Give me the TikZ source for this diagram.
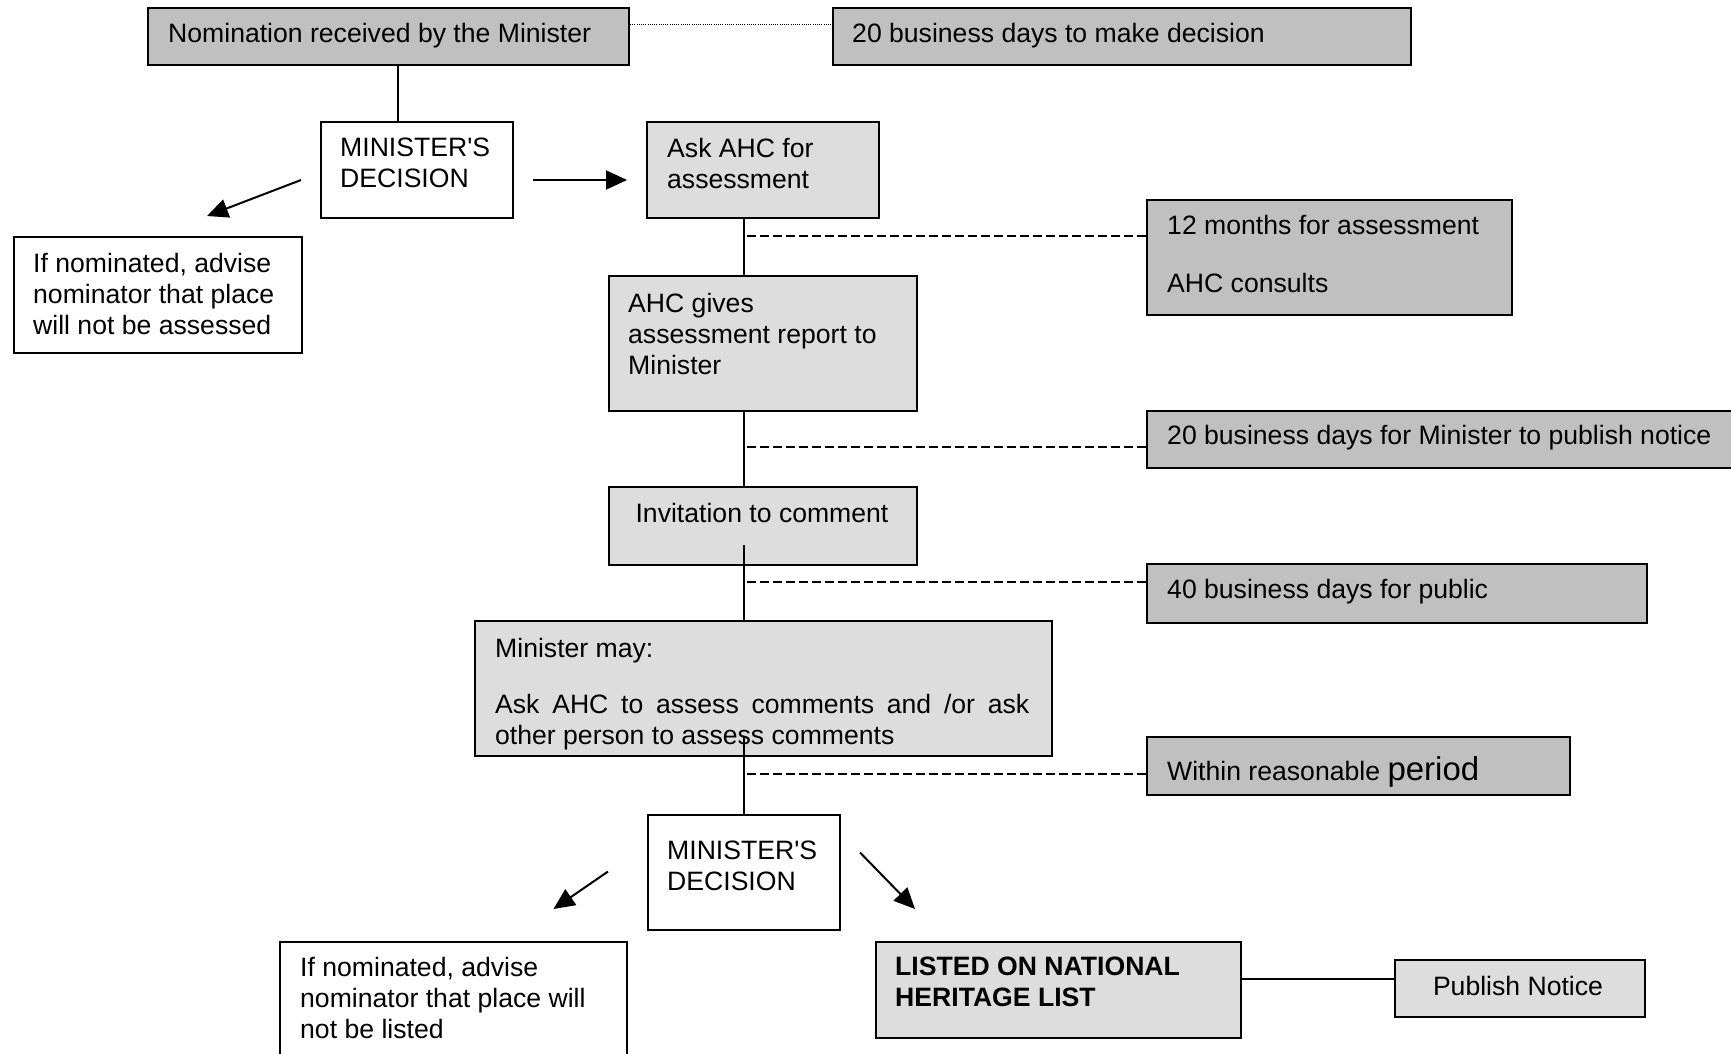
\documentclass[tikz,border=0pt]{standalone}
\usepackage{fontspec}
\setmainfont{Liberation Sans}
\usetikzlibrary{positioning, calc, arrows.meta}
\definecolor{boxdark}{HTML}{C0C0C0}
\definecolor{boxlight}{HTML}{DDDDDD}
\tikzset{
  every node/.style={font=\fontsize{26.6pt}{31pt}\selectfont}, % text size of the whole chart
  box/.style={draw, line width=2pt, anchor=north west, inner sep=0pt}, % every frame
  darkbox/.style={box, fill=boxdark}, % time limits on the right
  lightbox/.style={box, fill=boxlight}, % steps of the process
  plainbox/.style={box, fill=white}, % decisions and results
  txt/.style={anchor=north west, inner sep=0pt, align=left}, % text inside a frame
  link/.style={line width=2pt}, % plain connector
  flow/.style={link, -{Triangle[length=21pt, width=19pt]}}, % arrows
  timelink/.style={line width=2pt, dash pattern=on 9pt off 4pt}, % dashed line to a time limit
  duelink/.style={line width=1pt, dash pattern=on 1pt off 1.2pt}, % dotted line at the top
}

\begin{document}
\begin{tikzpicture}[x=1pt, y=-1pt]
  \useasboundingbox (0,0) rectangle (1731,1053);

  % frames
  \node[darkbox, minimum width=481pt, minimum height=57pt] (NOMINATION) at (147,7) {};
  \node[darkbox, minimum width=578pt, minimum height=57pt] (DAYS_20) at (832,7) {};
  \node[plainbox, minimum width=192pt, minimum height=96pt] (DECISION_1) at (320,121) {};
  \node[lightbox, minimum width=232pt, minimum height=96pt] (ASK_AHC) at (646,121) {};
  \node[plainbox, minimum width=288pt, minimum height=116pt] (NOT_ASSESSED) at (13,236) {};
  \node[darkbox, minimum width=365pt, minimum height=115pt] (MONTHS_12) at (1146,199) {};
  \node[lightbox, minimum width=308pt, minimum height=135pt] (REPORT) at (608,275) {};
  \node[darkbox, minimum width=600pt, minimum height=57pt] (DAYS_20_PUB) at (1146,410) {};
  \node[lightbox, minimum width=308pt, minimum height=78pt] (INVITE) at (608,486) {};
  \node[darkbox, minimum width=500pt, minimum height=59pt] (DAYS_40) at (1146,563) {};
  \node[lightbox, minimum width=577pt, minimum height=135pt] (MAY) at (474,620) {};
  \node[darkbox, minimum width=423pt, minimum height=58pt] (WITHIN) at (1146,736) {};
  \node[plainbox, minimum width=192pt, minimum height=115pt] (DECISION_2) at (647,814) {};
  \node[plainbox, minimum width=347pt, minimum height=140pt] (NOT_LISTED) at (279,941) {};
  \node[lightbox, minimum width=365pt, minimum height=96pt] (LISTED) at (875,941) {};
  \node[lightbox, minimum width=250pt, minimum height=57pt] (PUBLISH) at (1394,959) {};

  % texts
  \node[txt] (T_NOMINATION) at (168,23.5) {Nomination received by the Minister};
  \node[txt] (T_DAYS_20) at (852,23.5) {20 business days to make decision};
  \node[txt] (T_DECISION_1) at (340,138) {MINISTER\textquotesingle S\\DECISION};
  \node[txt] (T_ASK_AHC) at (667,138) {Ask AHC for\\assessment};
  \node[txt] (T_NOT_ASSESSED) at (33,253) {If nominated, advise\\nominator that place\\will not be assessed};
  \node[txt] (T_MONTHS_12) at (1167,215.5) {12 months for assessment\\[26.5pt]AHC consults};
  \node[txt] (T_REPORT) at (628,293) {AHC gives\\assessment report to\\Minister};
  \node[txt] (T_DAYS_20_PUB) at (1167,425) {20 business days for Minister to publish notice};
  \node[txt, anchor=north] (T_INVITE) at (762,503.5) {Invitation to comment};
  \node[txt] (T_DAYS_40) at (1167,579) {40 business days for public};
  \node[txt, text width=534pt, align=justify] (T_MAY) at (495,638.5)
    {Minister may:\\[25pt]Ask AHC to assess comments and /or ask other person to assess comments};
  \node[txt] (T_WITHIN) at (1167,756) {Within reasonable {\fontsize{33pt}{31pt}\selectfont period}};
  \node[txt] (T_DECISION_2) at (667,840.5) {MINISTER\textquotesingle S\\DECISION};
  \node[txt] (T_NOT_LISTED) at (300,957.5) {If nominated, advise\\nominator that place will\\not be listed};
  \node[txt, font=\fontsize{26.6pt}{31pt}\selectfont\bfseries] (T_LISTED) at (895,956.5) {LISTED ON NATIONAL\\HERITAGE LIST};
  \node[txt, anchor=north] (T_PUBLISH) at (1518,976.5) {Publish Notice};

  % helper points
  \coordinate (SPINE) at ([shift={(-19,0)}]ASK_AHC.south);
  \coordinate (C_TOP) at ([shift={(-19,0)}]DECISION_1.north);
  \coordinate (C_INVITE) at ($(SPINE |- INVITE.south)+(0,-21)$);
  \coordinate (C_MAY) at ($(SPINE |- MAY.south)+(0,-20)$);
  \coordinate (C_LISTED) at ([shift={(0,-11)}]LISTED.east);
  \coordinate (C_DUE) at ([shift={(0,17)}]NOMINATION.north east);
  \coordinate (C_T1) at ([shift={(0,37)}]MONTHS_12.north west);
  \coordinate (C_T2) at ([shift={(0,37)}]DAYS_20_PUB.north west);
  \coordinate (C_T3) at ([shift={(0,19)}]DAYS_40.north west);
  \coordinate (C_T4) at ([shift={(0,38)}]WITHIN.north west);

  % connectors
  \draw[duelink] (C_DUE) -- (C_DUE -| DAYS_20.west);
  \draw[link] (C_TOP |- NOMINATION.south) -- (C_TOP);
  \draw[flow] ([shift={(19,10)}]DECISION_1.east) -- ([shift={(-19,10)}]ASK_AHC.west);
  \draw[flow] ([shift={(-19,10)}]DECISION_1.west) -- ([shift={(49,-20)}]NOT_ASSESSED.north);
  \draw[link] (SPINE) -- (SPINE |- REPORT.north);
  \draw[link] (SPINE |- REPORT.south) -- (SPINE |- INVITE.north);
  \draw[link] (C_INVITE) -- (C_INVITE |- MAY.north);
  \draw[link] (C_MAY) -- (C_MAY |- DECISION_2.north);
  \draw[timelink] (C_T1) -- (C_T1 -| SPINE);
  \draw[timelink] (C_T2) -- (C_T2 -| SPINE);
  \draw[timelink] (C_T3) -- (C_T3 -| SPINE);
  \draw[timelink] (C_T4) -- (C_T4 -| SPINE);
  \draw[flow] ([shift={(-39,-1)}]DECISION_2.west) -- ([shift={(100,-32)}]NOT_LISTED.north);
  \draw[flow] ([shift={(19,-20)}]DECISION_2.east) -- ([shift={(40,-32)}]LISTED.north west);
  \draw[link] (C_LISTED) -- (C_LISTED -| PUBLISH.west);
\end{tikzpicture}
\end{document}
